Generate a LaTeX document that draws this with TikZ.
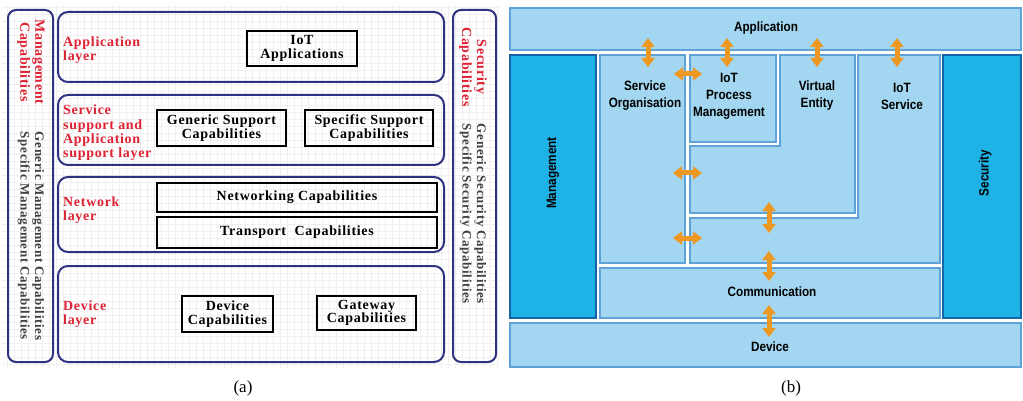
\documentclass[tikz,border=0pt]{standalone}
\usepackage{fontspec}
\setmainfont{Liberation Serif}
\newfontfamily\aserif[LetterSpace=5]{Liberation Serif}
\newfontfamily\bsans[FakeStretch=0.87]{Liberation Sans}
\usetikzlibrary{arrows.meta}
\definecolor{navy}{RGB}{46,50,128}
\definecolor{lblred}{RGB}{222,34,52}
\definecolor{lightfill}{RGB}{163,215,241}
\definecolor{lightedge}{RGB}{95,162,215}
\definecolor{darkfill}{RGB}{30,178,230}
\definecolor{darkedge}{RGB}{22,100,168}
\definecolor{arrowor}{RGB}{237,152,35}
\tikzset{
  layerbox/.style={draw=navy, line width=2pt, rounded corners=10pt, inner sep=0pt, outer sep=0pt, anchor=north west},
  sidebox/.style={draw=navy, line width=2pt, rounded corners=8pt, inner sep=0pt, outer sep=0pt, anchor=north west},
  capbox/.style={draw=black, line width=2.6pt, inner sep=0pt, outer sep=0pt, anchor=north west, align=center,
    font=\aserif\bfseries\fontsize{14}{13.5}\selectfont},
  redlbl/.style={anchor=west, align=left, text=lblred, inner sep=0pt,
    font=\aserif\bfseries\fontsize{14}{14.3}\selectfont},
  redvert/.style={rotate=-90, align=center, text=lblred, inner sep=0pt,
    font=\aserif\bfseries\fontsize{14}{15}\selectfont},
  grayvert/.style={rotate=-90, align=center, text=black!75, inner sep=0pt,
    font=\aserif\bfseries\fontsize{13}{14.5}\selectfont},
  lightbox/.style={draw=lightedge, fill=lightfill, line width=2pt, inner sep=0pt, outer sep=0pt, anchor=north west},
  darkbox/.style={draw=darkedge, fill=darkfill, line width=2pt, inner sep=0pt, outer sep=0pt, anchor=north west},
  lightshape/.style={draw=lightedge, fill=lightfill, line width=2pt},
  btext/.style={align=center, inner sep=0pt, font=\bsans\bfseries\fontsize{13.5}{17}\selectfont},
  orarrow/.style={draw=arrowor, line width=5pt,
    {Triangle[width=13pt,length=9pt]}-{Triangle[width=13pt,length=9pt]}},
  caption/.style={inner sep=0pt, font=\fontsize{17}{20}\selectfont}
}
\begin{document}
\begin{tikzpicture}[x=1pt,y=-1pt]
\useasboundingbox (0,0) rectangle (1023,401);
% faint grid of panel (a)
\draw[black!6, line width=0.3pt, step=7pt] (2,5) grid (500,368);

% ---------------- panel (a) ----------------
\node[sidebox, minimum width=45pt, minimum height=352pt] (mgmt) at (8,10) {};
\node[sidebox, minimum width=43pt, minimum height=352pt] (sec) at (453,10) {};
\node[layerbox, minimum width=386pt, minimum height=70pt] (applayer) at (58,12) {};
\node[layerbox, minimum width=386pt, minimum height=70pt] (svclayer) at (58,95) {};
\node[layerbox, minimum width=386pt, minimum height=75pt] (netlayer) at (58,177) {};
\node[layerbox, minimum width=386pt, minimum height=96pt] (devlayer) at (58,266) {};

\node[redvert] (mgmtred) at (31,62) {Management\\Capabilities};
\node[grayvert] (mgmtgray) at (31,236) {Generic Management Capabilities\\Specific Management Capabilities};
\node[redvert] (secred) at (473,67) {Security\\Capabilities};
\node[grayvert] (secgray) at (473,214) {Generic Security Capabilities\\Specific Security Capabilities};

\node[redlbl] (applbl) at (63,50) {Application\\layer};
\node[redlbl] (svclbl) at (63,133) {Service\\support and\\Application\\support layer};
\node[redlbl] (netlbl) at (63,210) {Network\\layer};
\node[redlbl] (devlbl) at (63,314) {Device\\layer};

\node[capbox, minimum width=110pt, minimum height=35pt] (iotapp) at (247,31) {IoT\\Applications};
\node[capbox, minimum width=129pt, minimum height=36pt] (gensup) at (157,110) {Generic Support\\Capabilities};
\node[capbox, minimum width=128pt, minimum height=36pt] (specsup) at (305,110) {Specific Support\\Capabilities};
\node[capbox, minimum width=280pt, minimum height=29pt] (netcap) at (157,183) {Networking Capabilities};
\node[capbox, minimum width=280pt, minimum height=31pt] (trcap) at (157,217) {Transport\ \ Capabilities};
\node[capbox, minimum width=91pt, minimum height=36pt] (devcap) at (182,296) {Device\\Capabilities};
\node[capbox, minimum width=99pt, minimum height=34pt] (gwcap) at (317,296) {Gateway\\Capabilities};

\node[caption] (capa) at (243,388) {(a)};

% ---------------- panel (b) ----------------
\node[lightbox, minimum width=511pt, minimum height=42pt] (appbar) at (510,8) {};
\node[darkbox, minimum width=86pt, minimum height=263pt] (mgmtb) at (510,55) {};
\node[darkbox, minimum width=78pt, minimum height=263pt] (secb) at (943,55) {};
\node[lightbox, minimum width=511pt, minimum height=44pt] (devbar) at (510,323) {};
\node[lightbox, minimum width=85pt, minimum height=208pt] (svcorg) at (600,55) {};
\node[lightbox, minimum width=86pt, minimum height=87pt] (iotpm) at (690,55) {};
\draw[lightshape] (780,55) -- (855,55) -- (855,213) -- (690,213) -- (690,146) -- (780,146) -- cycle;
\draw[lightshape] (858,55) -- (940,55) -- (940,263) -- (690,263) -- (690,218) -- (858,218) -- cycle;
\node[lightbox, minimum width=340pt, minimum height=50pt] (comm) at (600,268) {};

\node[btext] (apptxt) at (766,28) {Application};
\node[btext] (svctxt) at (645,96) {Service\\Organisation};
\node[btext] (pmtxt) at (729,96) {IoT\\Process\\Management};
\node[btext] (vetxt) at (817,96) {Virtual\\Entity};
\node[btext] (istxt) at (902,96) {IoT\\Service};
\node[btext, rotate=90] (mgmttxt) at (553,173) {Management};
\node[btext, rotate=90] (sectxt) at (985,173) {Security};
\node[btext] (commtxt) at (772,292) {Communication};
\node[btext] (devtxt) at (770,347) {Device};

% arrow end points
\coordinate (v1a) at (648,38);  \coordinate (v1b) at (648,67);
\coordinate (v2a) at (727,38);  \coordinate (v2b) at (727,67);
\coordinate (v3a) at (817,38);  \coordinate (v3b) at (817,67);
\coordinate (v4a) at (897,38);  \coordinate (v4b) at (897,67);
\coordinate (v5a) at (769,202); \coordinate (v5b) at (769,233);
\coordinate (v6a) at (769,251); \coordinate (v6b) at (769,281);
\coordinate (v7a) at (769,305); \coordinate (v7b) at (769,337);
\coordinate (h1a) at (674,74);  \coordinate (h1b) at (702,74);
\coordinate (h2a) at (673,173); \coordinate (h2b) at (702,173);
\coordinate (h3a) at (673,238); \coordinate (h3b) at (702,238);
\foreach \p in {v1,v2,v3,v4,v5,v6,v7,h1,h2,h3}
  \draw[orarrow] (\p a) -- (\p b);

\node[caption] (capb) at (791,388) {(b)};
\end{tikzpicture}
\end{document}
